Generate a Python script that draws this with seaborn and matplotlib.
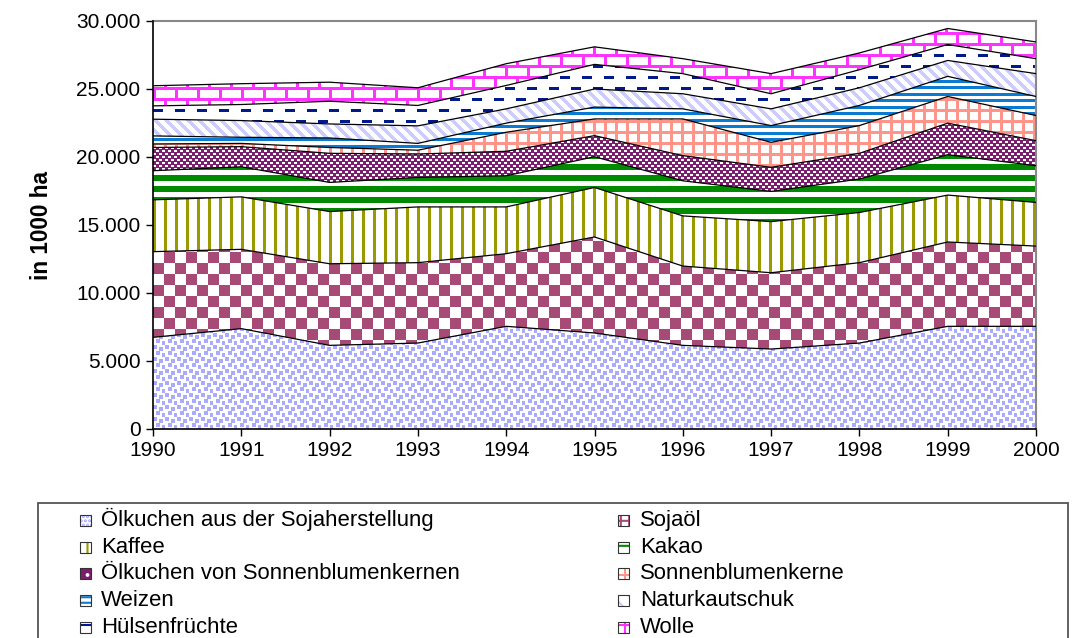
import numpy as np
import pandas as pd
import matplotlib
matplotlib.use('Agg')
import matplotlib.pyplot as plt
from matplotlib.patches import Rectangle
from matplotlib.ticker import FuncFormatter
import seaborn as sns

# Flaeche in ha, gestapelt von unten nach oben
jahre = [1990, 1991, 1992, 1993, 1994, 1995, 1996, 1997, 1998, 1999, 2000]
produkte = ['Ölkuchen aus der Sojaherstellung', 'Sojaöl', 'Kaffee', 'Kakao',
            'Ölkuchen von Sonnenblumenkernen', 'Sonnenblumenkerne', 'Weizen',
            'Naturkautschuk', 'Hülsenfrüchte', 'Wolle']
oelkuchen_soja = [6740, 7380, 6150, 6320, 7550, 7060, 6150, 5880, 6320, 7550, 7550]
sojaoel = [6300, 5830, 6000, 5910, 5340, 7060, 5830, 5610, 5910, 6200, 5900]
kaffee = [3810, 3860, 3840, 4100, 3440, 3640, 3690, 3760, 3690, 3450, 3210]
kakao = [2140, 2210, 2140, 2170, 2290, 2260, 2580, 2220, 2460, 2970, 2700]
oelkuchen_sonnen = [1710, 1480, 2140, 1720, 1800, 1550, 1850, 1770, 1890, 2320, 1840]
sonnenblumenkerne = [260, 240, 430, 280, 1400, 1230, 2700, 1840, 2040, 1960, 1850]
weizen = [590, 450, 700, 500, 670, 870, 740, 1230, 1480, 1480, 1400]
naturkautschuk = [1230, 1230, 1030, 1290, 1050, 1330, 1110, 1230, 1300, 1170, 1680]
huelsenfruechte = [980, 1180, 1670, 1500, 1720, 1810, 1480, 1110, 1330, 1170, 1100]
wolle = [1480, 1530, 1400, 1300, 1600, 1290, 1100, 1480, 1230, 1180, 1230]

reihen = [oelkuchen_soja, sojaoel, kaffee, kakao, oelkuchen_sonnen,
          sonnenblumenkerne, weizen, naturkautschuk, huelsenfruechte, wolle]

farben = ['#AAAAFF', '#A84A76', '#999900', '#008A00', '#7B1E6F',
          '#FF9488', '#0A7AD2', '#CCCCFF', '#001A8C', '#FF33FF']


# --- Muster (Excel-artige Fuellungen) als kleine Kacheln ---
def kachel(name):
    if name == 0:
        m = np.zeros((12, 12), bool)
        for r, c in [(0, 0), (2, 6), (6, 3), (8, 9)]:
            m[r:r + 4, c:c + 4] = True
    elif name == 1:
        r, c = np.indices((22, 22))
        m = ((r // 11) + (c // 11)) % 2 == 0
    elif name == 2:
        m = np.zeros((1, 11), bool)
        m[:, 0:3] = True
    elif name == 3:
        m = np.zeros((11, 1), bool)
        m[0:6] = True
    elif name == 4:
        m = np.ones((6, 6), bool)
        m[0:2, 0:3] = False
        m[3:5, 3:6] = False
    elif name == 5:
        m = np.zeros((11, 11), bool)
        m[0:3, :] = True
        m[:, 0:3] = True
    elif name == 6:
        m = np.zeros((13, 1), bool)
        m[0:3] = True
        m[7:10] = True
    elif name == 7:
        r, c = np.indices((11, 11))
        m = (c - r) % 11 < 5
    elif name == 8:
        m = np.zeros((22, 22), bool)
        m[0:3, 0:10] = True
        m[11:14, 11:21] = True
    else:
        m = np.zeros((22, 22), bool)
        m[0:3, :] = True
        m[11:14, :] = True
        m[3:11, 0:3] = True
        m[14:22, 11:14] = True
    return m


def textur(mask, farbe, H, W):
    big = np.tile(mask, (H // mask.shape[0] + 1, W // mask.shape[1] + 1))[:H, :W]
    rgb = np.array(matplotlib.colors.to_rgb(farbe))
    img = np.ones((H, W, 4))
    img[big, :3] = rgb
    return img


sns.set_theme(style='white')
plt.rcParams['font.family'] = ['Liberation Sans', 'DejaVu Sans']
plt.rcParams['hatch.linewidth'] = 1.5

FW, FH = 1074, 638
fig = plt.figure(figsize=(FW / 100, FH / 100), dpi=100)
ax_l, ax_b, ax_w, ax_h = 153, FH - 429, 883, 408
ax = fig.add_axes([ax_l / FW, ax_b / FH, ax_w / FW, ax_h / FH])

kum = np.cumsum(np.array(reihen, dtype=float), axis=0)
unten = np.zeros(len(jahre))
for i, name in enumerate(produkte):
    poly = ax.fill_between(jahre, unten, kum[i], facecolor='none', lw=0)
    im = ax.imshow(textur(kachel(i), farben[i], ax_h, ax_w), extent=(0, 1, 0, 1),
                   transform=ax.transAxes, interpolation='nearest', aspect='auto', zorder=1)
    im.set_clip_path(poly.get_paths()[0], ax.transData)
    unten = kum[i]

df = pd.DataFrame({'Jahr': np.tile(jahre, len(produkte)),
                   'kum': kum.ravel(),
                   'Produkt': np.repeat(produkte, len(jahre))})
sns.lineplot(data=df, x='Jahr', y='kum', units='Produkt', estimator=None,
             color='black', lw=0.9, legend=False, ax=ax, zorder=3)

ax.set_xlim(1990, 2000)
ax.set_ylim(0, 30000)
ax.set_xticks(jahre)
ax.set_yticks(range(0, 30001, 5000))
ax.yaxis.set_major_formatter(FuncFormatter(lambda v, p: f'{int(v):,}'.replace(',', '.')))
ax.tick_params(axis='both', direction='out', length=5, width=1, color='black',
               labelsize=15, labelcolor='black', left=True, bottom=True, pad=4)
ax.set_xlabel('')
ax.set_ylabel('in 1000 ha', fontsize=16.3, fontweight='bold', color='black', labelpad=17)
for s in ['left', 'bottom']:
    ax.spines[s].set_color('black')
    ax.spines[s].set_linewidth(1.2)
for s in ['top', 'right']:
    ax.spines[s].set_color('#888888')
    ax.spines[s].set_linewidth(1.5)
ax.spines['left'].set_zorder(5)
ax.spines['bottom'].set_zorder(5)

# Legende (zwei Spalten, zeilenweise wie im Original)
luken = ['....', '++', '||', '--', '..', '+', '---', '\\\\', '-', '+']
flaeche = ['white', 'white', 'white', 'white', '#7B1E6F', 'white', 'white', 'white', 'white', 'white']
lukenfarbe = farben[:4] + ['white'] + farben[5:]
for k, name in enumerate(produkte):
    zeile, spalte = k // 2, k % 2
    basis = 526 + 26.7 * zeile
    xs = [80, 618][spalte]
    xt = [101, 640][spalte]
    fig.add_artist(Rectangle((xs / FW, 1 - basis / FH), 11 / FW, 11 / FH,
                             transform=fig.transFigure, facecolor=flaeche[k],
                             edgecolor=lukenfarbe[k], hatch=luken[k], lw=0))
    fig.add_artist(Rectangle((xs / FW, 1 - basis / FH), 11 / FW, 11 / FH,
                             transform=fig.transFigure, fill=False,
                             edgecolor='#333333', lw=0.8))
    fig.text(xt / FW, 1 - basis / FH, name, fontsize=15.9, color='black',
             ha='left', va='baseline')

fig.add_artist(Rectangle((38 / FW, -0.05), (1068 - 38) / FW, 0.05 + (FH - 503) / FH,
                         transform=fig.transFigure, fill=False, edgecolor='#555555', lw=1.3))

fig.savefig('out.png', dpi=100)
